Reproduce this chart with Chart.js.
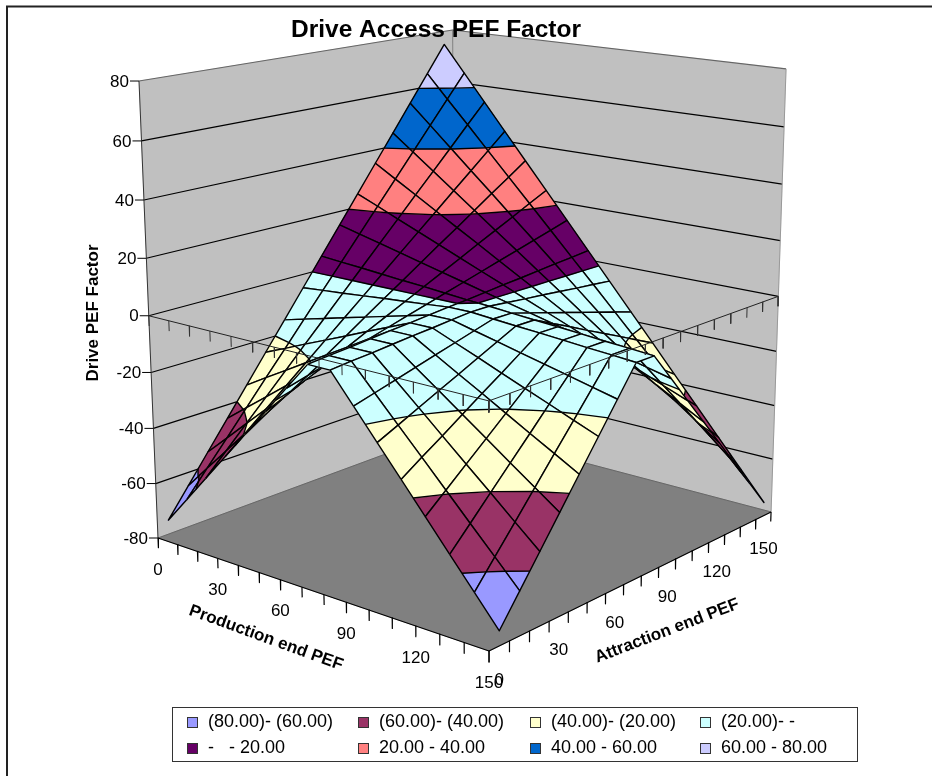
<!DOCTYPE html>
<html>
<head>
<meta charset="utf-8">
<title>Drive Access PEF Factor</title>
<style>
  html, body { margin: 0; padding: 0; background: #fff; }
  #wrap { position: relative; width: 932px; height: 776px; overflow: hidden; }
  canvas { position: absolute; left: 0; top: 0; }
</style>
<script src="https://cdn.jsdelivr.net/npm/chart.js@4/dist/chart.umd.js"></script>
</head>
<body>
<div id="wrap"><canvas id="surface" width="932" height="776"></canvas></div>
<script>
// values
const productionEnd = [0, 10, 20, 30, 40, 50, 60, 70, 80, 90, 100, 110, 120, 130, 140, 150];
const attractionEnd = [0, 10, 20, 30, 40, 50, 60, 70, 80, 90, 100, 110, 120, 130, 140, 150];
const zTicks = [-80, -60, -40, -20, 0, 20, 40, 60, 80];
const axisLabels = ['0', '30', '60', '90', '120', '150'];

// one row per production end value, one column per attraction end value
const driveFactor = [
  [-75, -65, -55, -45, -35, -25, -15, -5, 5, 15, 25, 35, 45, 55, 65, 75],
  [-65, -56.3, -47.7, -39, -30.3, -21.7, -13, -4.3, 4.3, 13, 21.7, 30.3, 39, 47.7, 56.3, 65],
  [-55, -47.7, -40.3, -33, -25.7, -18.3, -11, -3.7, 3.7, 11, 18.3, 25.7, 33, 40.3, 47.7, 55],
  [-45, -39, -33, -27, -21, -15, -9, -3, 3, 9, 15, 21, 27, 33, 39, 45],
  [-35, -30.3, -25.7, -21, -16.3, -11.7, -7, -2.3, 2.3, 7, 11.7, 16.3, 21, 25.7, 30.3, 35],
  [-25, -21.7, -18.3, -15, -11.7, -8.3, -5, -1.7, 1.7, 5, 8.3, 11.7, 15, 18.3, 21.7, 25],
  [-15, -13, -11, -9, -7, -5, -3, -1, 1, 3, 5, 7, 9, 11, 13, 15],
  [-5, -4.3, -3.7, -3, -2.3, -1.7, -1, -0.3, 0.3, 1, 1.7, 2.3, 3, 3.7, 4.3, 5],
  [-5, -4.3, -3.7, -3, -2.3, -1.7, -1, -0.3, -0.3, -1, -1.7, -2.3, -3, -3.7, -4.3, -5],
  [-15, -13, -11, -9, -7, -5, -3, -1, -1, -3, -5, -7, -9, -11, -13, -15],
  [-25, -21.7, -18.3, -15, -11.7, -8.3, -5, -1.7, -1.7, -5, -8.3, -11.7, -15, -18.3, -21.7, -25],
  [-35, -30.3, -25.7, -21, -16.3, -11.7, -7, -2.3, -2.3, -7, -11.7, -16.3, -21, -25.7, -30.3, -35],
  [-45, -39, -33, -27, -21, -15, -9, -3, -3, -9, -15, -21, -27, -33, -39, -45],
  [-55, -47.7, -40.3, -33, -25.7, -18.3, -11, -3.7, -3.7, -11, -18.3, -25.7, -33, -40.3, -47.7, -55],
  [-65, -56.3, -47.7, -39, -30.3, -21.7, -13, -4.3, -4.3, -13, -21.7, -30.3, -39, -47.7, -56.3, -65],
  [-75, -65, -55, -45, -35, -25, -15, -5, -5, -15, -25, -35, -45, -55, -65, -75]
];

const bandLabels = ['(80.00)- (60.00)', '(60.00)- (40.00)', '(40.00)- (20.00)', '(20.00)- -',
                    '-   - 20.00', '20.00 - 40.00', '40.00 - 60.00', '60.00 - 80.00'];
const bandColors = ['#9999FF', '#993366', '#FFFFCC', '#CCFFFF', '#660066', '#FF8080', '#0066CC', '#CCCCFF'];

// camera fitted to the corners of the box in the reference
const camX = [158, 272.1, 366.4, -26.4];
const camY = [538, 34.55, -43.7, -461.3];
const camW = [1, -0.1205, 0.1535, -0.0533];

// u runs along production end, v along attraction end, w up the value axis
function project(u, v, w) {
  const d = camW[0] + camW[1] * u + camW[2] * v + camW[3] * w;
  return {
    x: (camX[0] + camX[1] * u + camX[2] * v + camX[3] * w) / d,
    y: (camY[0] + camY[1] * u + camY[2] * v + camY[3] * w) / d
  };
}
const zToW = z => (z + 80) / 160;
const pToU = p => p / 150;
// attraction end is a category axis, the points sit in the middle of each slot
const slotToV = i => (i + 0.5) / attractionEnd.length;

const datasets = [];
function addShape(points, fillColor, lineColor, lineWidth) {
  datasets.push({
    data: points,
    showLine: true,
    pointRadius: 0,
    fill: fillColor ? 'shape' : false,
    backgroundColor: fillColor || 'transparent',
    borderColor: lineColor,
    borderWidth: lineWidth,
    borderJoinStyle: 'round',
    tension: 0,
    order: -datasets.length
  });
}
const corner = (u, v, z) => project(u, v, zToW(z));

// walls and floor
addShape([corner(0, 0, -80), corner(0, 0, 80), corner(0, 1, 80), corner(0, 1, -80), corner(0, 0, -80)], '#C0C0C0', '#C0C0C0', 0.5);
addShape([corner(0, 1, -80), corner(0, 1, 80), corner(1, 1, 80), corner(1, 1, -80), corner(0, 1, -80)], '#C0C0C0', '#C0C0C0', 0.5);
addShape([corner(0, 0, -80), corner(1, 0, -80), corner(1, 1, -80), corner(0, 1, -80), corner(0, 0, -80)], '#808080', '#808080', 0.5);
zTicks.forEach(z => {
  if (z === -80) return;
  const col = z === 80 ? '#666666' : '#000000';
  addShape([corner(0, 0, z), corner(0, 1, z), corner(1, 1, z)], null, col, 1.2);
});
addShape([corner(0, 1, -80), corner(0, 1, 80)], null, '#808080', 1);
addShape([corner(1, 1, -80), corner(1, 1, 80)], null, '#999999', 1);
addShape([corner(0, 0, -80), corner(0, 0, 80)], null, '#333333', 1);
addShape([corner(0, 0, -80), corner(0, 1, -80), corner(1, 1, -80)], null, '#666666', 1);

// cut a polygon of {u, v, z} down to one band of values
function clipBand(poly, lo, hi) {
  let out = poly;
  [[lo, 1], [hi, -1]].forEach(([level, sign]) => {
    const next = [];
    out.forEach((a, n) => {
      const b = out[(n + 1) % out.length];
      const ina = (a.z - level) * sign >= 0, inb = (b.z - level) * sign >= 0;
      if (ina) next.push(a);
      if (ina !== inb) {
        const t = (level - a.z) / (b.z - a.z);
        next.push({ u: a.u + (b.u - a.u) * t, v: a.v + (b.v - a.v) * t, z: level });
      }
    });
    out = next;
  });
  return out;
}
const toPoint = q => project(q.u, q.v, zToW(q.z));

// surface, back corner first so the nearer cells paint over the farther ones
const cells = [];
for (let j = 0; j < productionEnd.length - 1; j++) {
  for (let i = 0; i < attractionEnd.length - 1; i++) cells.push({ j, i });
}
cells.sort((a, b) => (a.j - a.i) - (b.j - b.i));

cells.forEach(({ j, i }) => {
  const node = (jj, ii) => ({ u: pToU(productionEnd[jj]), v: slotToV(ii), z: driveFactor[jj][ii] });
  const quad = [node(j, i), node(j + 1, i), node(j + 1, i + 1), node(j, i + 1)];
  bandColors.forEach((color, b) => {
    const lo = zTicks[b], hi = zTicks[b + 1];
    const part = clipBand(quad, lo, hi);
    if (part.length < 3) return;
    const pts = part.map(toPoint);
    pts.push(pts[0]);
    addShape(pts, color, color, 0.6);
  });
  // band edges inside the cell
  zTicks.forEach(level => {
    const hits = [];
    quad.forEach((a, n) => {
      const c = quad[(n + 1) % 4];
      if ((a.z - level) * (c.z - level) < 0) {
        const t = (level - a.z) / (c.z - a.z);
        hits.push(project(a.u + (c.u - a.u) * t, a.v + (c.v - a.v) * t, zToW(level)));
      }
    });
    if (hits.length >= 2) addShape([hits[0], hits[1]], null, '#000000', 1.4);
  });
  const ring = quad.map(toPoint);
  ring.push(ring[0]);
  addShape(ring, null, '#000000', 1.4);
});

// value zero frame with its ticks, and the tick marks under the floor
const tickDrop = 3.6;
addShape([corner(0, 0, 0), corner(1, 0, 0), corner(1, 1, 0)], null, '#222222', 1);
productionEnd.forEach(p => {
  const u = pToU(p);
  addShape([corner(u, 0, 0), corner(u, 0, -tickDrop)], null, '#333333', 1);
  addShape([corner(u, 0, -80), corner(u, 0, -80 - tickDrop)], null, '#000000', 1.2);
});
for (let k = 0; k <= attractionEnd.length; k++) {
  const v = k / attractionEnd.length;
  addShape([corner(1, v, 0), corner(1, v, -tickDrop)], null, '#333333', 1);
  addShape([corner(1, v, -80), corner(1, v, -80 - tickDrop)], null, '#000000', 1.2);
}
// ticks on the value axis point left
zTicks.forEach(z => {
  const c = corner(0, 0, z);
  addShape([{ x: c.x - 9, y: c.y }, c], null, '#000000', 1);
});

// floor edges last
addShape([corner(0, 0, -80), corner(1, 0, -80), corner(1, 1, -80)], null, '#000000', 1.2);

const textLayer = {
  id: 'textLayer',
  afterDraw(chart) {
    const { ctx, scales } = chart;
    const X = v => scales.x.getPixelForValue(v), Y = v => scales.y.getPixelForValue(v);
    ctx.save();
    ctx.fillStyle = '#000';
    ctx.textBaseline = 'middle';

    // frame of the figure, only the top and left show in the crop
    ctx.strokeStyle = '#222';
    ctx.lineWidth = 2;
    ctx.beginPath();
    ctx.moveTo(7, 776);
    ctx.lineTo(7, 6.5);
    ctx.lineTo(932, 6.5);
    ctx.stroke();
    ctx.lineWidth = 1;

    ctx.textAlign = 'center';
    ctx.font = 'bold 24.5px "Liberation Sans"';
    ctx.fillText('Drive Access PEF Factor', 436, 30);

    ctx.font = '17px "Liberation Sans"';
    ctx.textAlign = 'right';
    zTicks.forEach(z => {
      const c = corner(0, 0, z);
      ctx.fillText(String(z), X(c.x) - 10, Y(c.y) + 1);
    });
    ctx.textAlign = 'center';
    axisLabels.forEach(lab => {
      const p = Number(lab);
      const a = corner(pToU(p), 0, -80);
      ctx.fillText(lab, X(a.x), Y(a.y) + 32);
      const b = corner(1, slotToV(attractionEnd.indexOf(p)), -80);
      ctx.fillText(lab, X(b.x), Y(b.y) + 34);
    });

    ctx.font = 'bold 17px "Liberation Sans"';
    ctx.save();
    ctx.translate(93, 313);
    ctx.rotate(-Math.PI / 2);
    ctx.fillText('Drive PEF Factor', 0, 0);
    ctx.restore();
    ctx.save();
    ctx.translate(266, 638);
    ctx.rotate(20 * Math.PI / 180);
    ctx.fillText('Production end PEF', 0, 0);
    ctx.restore();
    ctx.save();
    ctx.translate(667, 631);
    ctx.rotate(-21 * Math.PI / 180);
    ctx.fillText('Attraction end PEF', 0, 0);
    ctx.restore();

    // legend
    ctx.strokeStyle = '#333';
    ctx.strokeRect(172.5, 707.5, 685, 54);
    ctx.font = '18px "Liberation Sans"';
    ctx.textAlign = 'left';
    const swatchX = [187, 358, 530, 700];
    const textX = [208, 379, 551, 721];
    const rows = [722, 748];
    bandLabels.forEach((lab, n) => {
      const x = swatchX[n % 4], y = rows[n < 4 ? 0 : 1];
      ctx.fillStyle = bandColors[n];
      ctx.fillRect(x, y - 5, 11, 11);
      ctx.strokeStyle = '#333';
      ctx.strokeRect(x + 0.5, y - 4.5, 10, 10);
      ctx.fillStyle = '#000';
      ctx.fillText(lab, textX[n % 4], y);
    });
    ctx.restore();
  }
};

new Chart(document.getElementById('surface'), {
  type: 'scatter',
  data: { datasets },
  plugins: [textLayer],
  options: {
    responsive: false,
    animation: false,
    events: [],
    layout: { padding: 0 },
    plugins: { legend: { display: false }, tooltip: { enabled: false }, filler: { propagate: false } },
    scales: {
      x: { type: 'linear', display: false, min: 0, max: 932 },
      y: { type: 'linear', display: false, min: 0, max: 776, reverse: true }
    }
  }
});
</script>
</body>
</html>
